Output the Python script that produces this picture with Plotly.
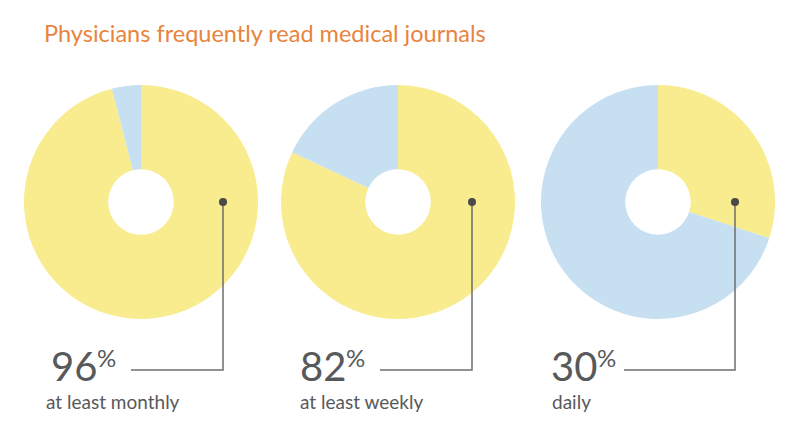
import plotly.graph_objects as go

# data
labels = ["Yes", "No"]
shares = [96, 82, 30]
captions = ["at least monthly", "at least weekly", "daily"]
title_text = "Physicians frequently read medical journals"

yellow = "#F8EC8E"
blue = "#C6DFF1"
grey = "#58595B"

# layout positions (pixels)
W, H = 800, 434
centers_x = [141, 398, 658]
center_y = 202
radius = 117
dots_x = [223, 472, 735]
line_ends_x = [131, 380, 624]
numbers_x = [53, 302, 553]
captions_x = [47, 301, 553]
line_y = 370

fig = go.Figure()
shapes = []

for i, v in enumerate(shares):
    cx = centers_x[i]
    fig.add_trace(go.Pie(
        labels=labels, values=[v, 100 - v],
        hole=0.28, sort=False, direction="clockwise", rotation=0,
        marker=dict(colors=[yellow, blue], line=dict(width=0)),
        textinfo="none", hoverinfo="label+percent", showlegend=False,
        domain=dict(x=[(cx - radius) / W, (cx + radius) / W],
                    y=[1 - (center_y + radius) / H, 1 - (center_y - radius) / H]),
    ))

    # connector: dot -> down -> left to the number
    dx = dots_x[i]
    shapes.append(dict(type="path", xref="x", yref="y", layer="above",
                       path=f"M {dx} {center_y} L {dx} {line_y} L {line_ends_x[i]} {line_y}",
                       line=dict(color="#6d6e70", width=1.5)))
    shapes.append(dict(type="circle", xref="x", yref="y", layer="above",
                       x0=dx - 4, x1=dx + 4, y0=center_y - 4, y1=center_y + 4,
                       fillcolor="#4a4a4a", line=dict(width=0)))

    tx = numbers_x[i] - 4
    fig.add_annotation(x=tx, y=392, xref="x", yref="y", text=str(v),
                       showarrow=False, xanchor="left", yanchor="bottom",
                       font=dict(size=40, color=grey, family="Lato"))
    fig.add_annotation(x=tx + 46, y=374, xref="x", yref="y", text="%",
                       showarrow=False, xanchor="left", yanchor="bottom",
                       font=dict(size=24, color=grey, family="Lato"))
    fig.add_annotation(x=captions_x[i] - 3, y=415, xref="x", yref="y", text=captions[i],
                       showarrow=False, xanchor="left", yanchor="bottom",
                       font=dict(size=19, color=grey, family="Lato"))

fig.add_annotation(x=42, y=33, xref="x", yref="y", text=title_text,
                   showarrow=False, xanchor="left", yanchor="middle",
                   font=dict(size=23.5, color="#E8843C", family="Lato"))

fig.update_layout(
    width=W, height=H, margin=dict(l=0, r=0, t=0, b=0),
    paper_bgcolor="white", plot_bgcolor="rgba(0,0,0,0)",
    xaxis=dict(range=[0, W], visible=False, fixedrange=True),
    yaxis=dict(range=[H, 0], visible=False, fixedrange=True),
    shapes=shapes,
)

fig.write_html("out.html", config={"displayModeBar": False},
               post_script="document.body.style.margin='0';")
